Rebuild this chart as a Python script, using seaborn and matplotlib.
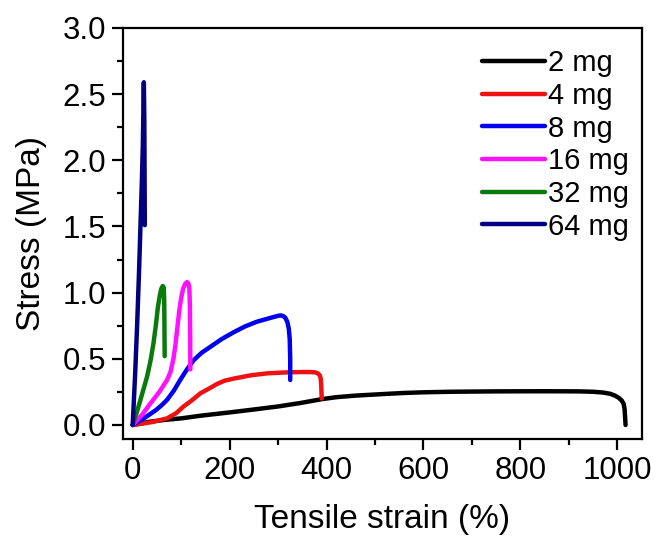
import numpy as np
import pandas as pd
import matplotlib
matplotlib.use("Agg")
import matplotlib.pyplot as plt
from matplotlib.ticker import MultipleLocator
import seaborn as sns

# ---- data ----
labels = ["2 mg", "4 mg", "8 mg", "16 mg", "32 mg", "64 mg"]
colors = ["#000000", "#ee1111", "#0000ee", "#ff11ff", "#0a7a0a", "#000080"]

strain_2 = [0, 20, 36, 70, 100, 140, 200, 241, 300, 346, 390, 420, 460, 518, 560, 600, 655, 750, 850,
            920, 950, 971, 985, 995, 1003, 1009, 1013, 1015, 1016, 1017]
stress_2 = [0, 0.015, 0.025, 0.04, 0.05, 0.07, 0.095, 0.113, 0.14, 0.166, 0.195, 0.21, 0.222, 0.234, 0.242,
            0.247, 0.251, 0.254, 0.255, 0.254, 0.251, 0.245, 0.236, 0.222, 0.205, 0.185, 0.16, 0.12, 0.06, 0.0]

strain_4 = [0, 20, 40, 71, 90, 105, 120, 140, 160, 174, 190, 208, 243, 277, 320, 350, 366, 376, 382,
            386, 388, 389, 390]
stress_4 = [0, 0.01, 0.022, 0.05, 0.09, 0.14, 0.18, 0.24, 0.28, 0.31, 0.335, 0.35, 0.375, 0.39, 0.398,
            0.40, 0.40, 0.398, 0.39, 0.375, 0.35, 0.30, 0.20]

strain_8 = [0, 23, 47, 60, 71, 85, 98, 112, 126, 142, 160, 184, 208, 232, 256, 280, 300, 306, 311, 315,
            319, 322, 324, 325, 325]
stress_8 = [0, 0.05, 0.11, 0.15, 0.19, 0.26, 0.34, 0.42, 0.49, 0.545, 0.59, 0.65, 0.70, 0.745, 0.78,
            0.805, 0.825, 0.828, 0.822, 0.81, 0.78, 0.73, 0.65, 0.50, 0.34]

strain_16 = [0, 20, 36, 55, 71, 78, 84, 88, 92, 96, 100, 104, 108, 112, 115, 117, 118, 118.5, 119]
stress_16 = [0, 0.08, 0.16, 0.25, 0.34, 0.40, 0.50, 0.60, 0.73, 0.86, 0.96, 1.03, 1.065, 1.08, 1.07,
             1.03, 0.90, 0.70, 0.42]

strain_32 = [0, 8, 16, 23, 30, 37, 43, 48, 52, 56, 59, 62, 64, 65, 65.5, 66]
stress_32 = [0, 0.09, 0.19, 0.28, 0.37, 0.49, 0.62, 0.76, 0.89, 0.98, 1.03, 1.05, 1.04, 0.95, 0.75, 0.52]

strain_64 = [0, 5, 9, 13, 16, 19, 21, 23, 24, 25]
stress_64 = [0, 0.38, 0.74, 1.15, 1.50, 1.85, 2.13, 2.59, 2.30, 1.51]

strains = [strain_2, strain_4, strain_8, strain_16, strain_32, strain_64]
stresses = [stress_2, stress_4, stress_8, stress_16, stress_32, stress_64]

frames = []
for lab, xs, ys in zip(labels, strains, stresses):
    frames.append(pd.DataFrame({"strain": xs, "stress": ys, "sample": lab}))
df = pd.concat(frames, ignore_index=True)

# ---- style ----
sns.set_theme(style="ticks")
plt.rcParams["font.family"] = ["Liberation Sans", "DejaVu Sans"]
plt.rcParams["text.color"] = "black"
plt.rcParams["axes.labelcolor"] = "black"
plt.rcParams["xtick.color"] = "black"
plt.rcParams["ytick.color"] = "black"

fig = plt.figure(figsize=(6.56, 5.38), dpi=100)
ax = fig.add_axes([0.1875, 0.184, 0.7905, 0.764])

sns.lineplot(data=df, x="strain", y="stress", hue="sample", hue_order=labels,
             palette=dict(zip(labels, colors)), sort=False, estimator=None,
             units="sample", linewidth=3.2, ax=ax, legend=True)
for ln in ax.get_lines():
    ln.set_solid_joinstyle("round")
    ln.set_solid_capstyle("round")

ax.set_xlim(-20, 1050)
ax.set_ylim(-0.106, 3.0)
ax.set_xticks(np.arange(0, 1001, 200))
ax.xaxis.set_minor_locator(MultipleLocator(100))
ax.set_yticks(np.arange(0, 3.01, 0.5))
ax.yaxis.set_minor_locator(MultipleLocator(0.25))
ax.set_yticklabels([f"{v:.1f}" for v in np.arange(0, 3.01, 0.5)])

for s in ax.spines.values():
    s.set_visible(True)
    s.set_linewidth(1.6)
    s.set_color("black")
ax.tick_params(which="major", direction="out", length=8, width=1.6,
               labelsize=22.5, pad=4, colors="black")
ax.tick_params(which="minor", direction="out", length=4, width=1.6, colors="black")

ax.set_xlabel("Tensile strain (%)", fontsize=24, labelpad=13, color="black")
ax.set_ylabel("Stress (MPa)", fontsize=24, labelpad=11, color="black")

handles, labs = ax.get_legend_handles_labels()
leg = ax.legend(handles, labs, loc="upper left", bbox_to_anchor=(0.692, 0.948),
                frameon=False, fontsize=21, handlelength=2.15, handletextpad=0.12,
                labelspacing=0.16, borderpad=0, borderaxespad=0)
for h in leg.get_lines():
    h.set_linewidth(3.2)
for t in leg.get_texts():
    t.set_color("black")

fig.savefig("out.png", dpi=100)
